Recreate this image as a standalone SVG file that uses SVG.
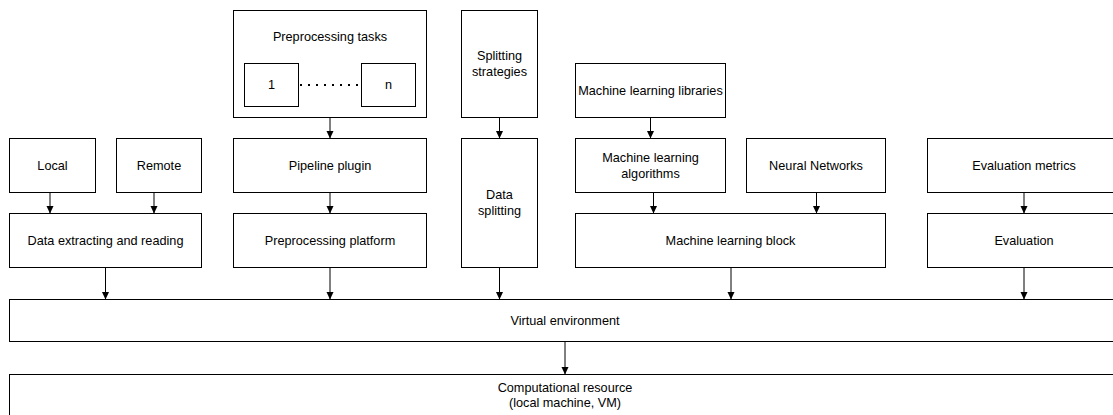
<svg xmlns="http://www.w3.org/2000/svg" width="1113" height="415" viewBox="0 0 1113 415">
<style>
.b{fill:#fff;stroke:#000;stroke-width:1}
.t{font-family:"Liberation Sans",Arial,sans-serif;font-size:12.7px;fill:#000;text-anchor:middle}
.c{stroke:#000;stroke-width:1;fill:none;marker-end:url(#ah)}
</style>
<defs>
<marker id="ah" markerUnits="userSpaceOnUse" markerWidth="8" markerHeight="8" refX="7.5" refY="3.5" orient="auto">
<path d="M0,0 L7.5,3.5 L0,7 z" fill="#000"/>
</marker>
</defs>
<rect width="1113" height="415" fill="#fff"/>
<g id="local"><rect class="b" x="9.5" y="138.5" width="86" height="54"/><text class="t" x="52.5" y="169.5">Local</text></g>
<g id="remote"><rect class="b" x="116.5" y="138.5" width="85" height="54"/><text class="t" x="159" y="169.5">Remote</text></g>
<g id="data-extracting"><rect class="b" x="9.5" y="213.5" width="192" height="54"/><text class="t" x="105.5" y="244.5">Data extracting and reading</text></g>
<g id="preprocessing-tasks"><rect class="b" x="233.5" y="10.5" width="193" height="107"/><text class="t" x="330" y="41">Preprocessing tasks</text>
<rect class="b" x="244.5" y="63.5" width="54" height="43"/><text class="t" x="271.5" y="89">1</text>
<rect class="b" x="361.5" y="63.5" width="54" height="43"/><text class="t" x="388.5" y="89">n</text>
<line x1="300" y1="85" x2="361" y2="85" stroke="#000" stroke-width="2" stroke-dasharray="2 6"/></g>
<g id="pipeline-plugin"><rect class="b" x="233.5" y="138.5" width="193" height="54"/><text class="t" x="330" y="169.5">Pipeline plugin</text></g>
<g id="preprocessing-platform"><rect class="b" x="233.5" y="213.5" width="193" height="54"/><text class="t" x="330" y="244.5">Preprocessing platform</text></g>
<g id="splitting-strategies"><rect class="b" x="461.5" y="10.5" width="76" height="107"/><text class="t" x="499.5" y="60">Splitting</text><text class="t" x="499.5" y="76">strategies</text></g>
<g id="data-splitting"><rect class="b" x="461.5" y="138.5" width="76" height="129"/><text class="t" x="499.5" y="199">Data</text><text class="t" x="499.5" y="215">splitting</text></g>
<g id="ml-libraries"><rect class="b" x="575.5" y="63.5" width="150" height="54"/><text class="t" x="650.5" y="94.5">Machine learning libraries</text></g>
<g id="ml-algorithms"><rect class="b" x="575.5" y="138.5" width="150" height="54"/><text class="t" x="650.5" y="161.5">Machine learning</text><text class="t" x="650.5" y="177.5">algorithms</text></g>
<g id="neural-networks"><rect class="b" x="746.5" y="138.5" width="139" height="54"/><text class="t" x="816" y="169.5">Neural Networks</text></g>
<g id="ml-block"><rect class="b" x="575.5" y="213.5" width="310" height="54"/><text class="t" x="730.5" y="244.5">Machine learning block</text></g>
<g id="evaluation-metrics"><rect class="b" x="927.5" y="138.5" width="193" height="54"/><text class="t" x="1024" y="169.5">Evaluation metrics</text></g>
<g id="evaluation"><rect class="b" x="927.5" y="213.5" width="193" height="54"/><text class="t" x="1024" y="244.5">Evaluation</text></g>
<g id="virtual-environment"><rect class="b" x="9.5" y="299.5" width="1111" height="42"/><text class="t" x="565" y="324.5">Virtual environment</text></g>
<g id="computational-resource"><rect class="b" x="9.5" y="374.5" width="1111" height="42"/><text class="t" x="565" y="391.5">Computational resource</text><text class="t" x="565" y="406.5">(local machine, VM)</text></g>
<g id="connectors">
<line class="c" x1="50" y1="192.5" x2="50" y2="213.5"/>
<line class="c" x1="154" y1="192.5" x2="154" y2="213.5"/>
<line class="c" x1="105.5" y1="267.5" x2="105.5" y2="299.5"/>
<line class="c" x1="330" y1="117.5" x2="330" y2="138.5"/>
<line class="c" x1="330" y1="192.5" x2="330" y2="213.5"/>
<line class="c" x1="330" y1="267.5" x2="330" y2="299.5"/>
<line class="c" x1="499.5" y1="117.5" x2="499.5" y2="138.5"/>
<line class="c" x1="499.5" y1="267.5" x2="499.5" y2="299.5"/>
<line class="c" x1="650.5" y1="117.5" x2="650.5" y2="138.5"/>
<line class="c" x1="653.5" y1="192.5" x2="653.5" y2="213.5"/>
<line class="c" x1="816.5" y1="192.5" x2="816.5" y2="213.5"/>
<line class="c" x1="731" y1="267.5" x2="731" y2="299.5"/>
<line class="c" x1="1024" y1="192.5" x2="1024" y2="213.5"/>
<line class="c" x1="1024" y1="267.5" x2="1024" y2="299.5"/>
<line class="c" x1="565" y1="341.5" x2="565" y2="374.5"/>
</g>
</svg>
